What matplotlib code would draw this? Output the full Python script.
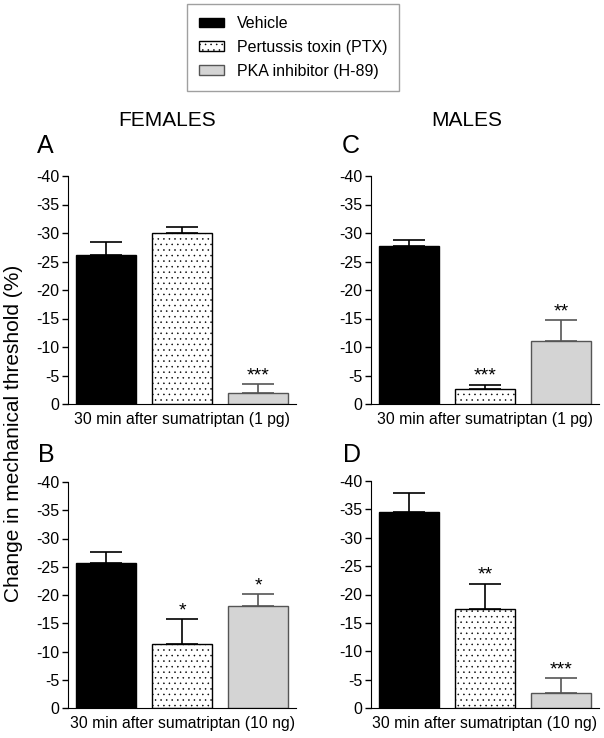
import numpy as np
import matplotlib
matplotlib.use("Agg")
import matplotlib.pyplot as plt
from matplotlib.patches import Patch

plt.rcParams['font.family'] = ['Liberation Sans', 'DejaVu Sans']
plt.rcParams['axes.unicode_minus'] = False
plt.rcParams['hatch.linewidth'] = 0.35

groups = ['Vehicle', 'Pertussis toxin (PTX)', 'PKA inhibitor (H-89)']

# change in mechanical threshold (%), plotted negative (axis is reversed)
fem_1pg = [-26.1, -30.0, -2.0]
fem_1pg_err = [2.3, 1.0, 1.5]
fem_1pg_sig = ['', '', '***']

fem_10ng = [-25.6, -11.3, -18.1]
fem_10ng_err = [2.0, 4.4, 2.0]
fem_10ng_sig = ['', '*', '*']

male_1pg = [-27.7, -2.6, -11.1]
male_1pg_err = [1.1, 0.8, 3.6]
male_1pg_sig = ['', '***', '**']

male_10ng = [-34.5, -17.5, -2.6]
male_10ng_err = [3.4, 4.4, 2.7]
male_10ng_sig = ['', '**', '***']

yticks = [0, -5, -10, -15, -20, -25, -30, -35, -40]

W, H = 604, 738
fig = plt.figure(figsize=(W / 100, H / 100), dpi=100)

def px_axes(x0, x1, ytop, ybot):
    return fig.add_axes([x0 / W, 1 - ybot / H, (x1 - x0) / W, (ybot - ytop) / H])

face = ['black', 'white', '#d4d4d4']
edge = ['black', 'black', '#555555']
hatch = [None, '...', None]

def panel(ax, vals, errs, sigs, xlabel):
    x = np.arange(3)
    for i in range(3):
        ax.bar(x[i], vals[i], width=0.79, color=face[i], edgecolor=edge[i],
               hatch=hatch[i], linewidth=1.0, zorder=2)
        ax.errorbar(x[i], vals[i], yerr=[[errs[i]], [0]], fmt='none',
                    ecolor=edge[i], elinewidth=1.2, capsize=11.5, capthick=1.2, zorder=3)
        if sigs[i]:
            ax.annotate(sigs[i], (x[i], vals[i] - errs[i]), xytext=(0, 6),
                        textcoords='offset points', ha='center', va='center',
                        fontsize=14)
    ax.set_xlim(-0.5, 2.5)
    ax.set_ylim(0, -40)
    ax.set_yticks(yticks)
    ax.set_xticks([])
    ax.spines['top'].set_visible(False)
    ax.spines['right'].set_visible(False)
    ax.tick_params(axis='y', labelsize=11.5, length=4, width=1, pad=2)
    ax.set_xlabel(xlabel, fontsize=11.3, labelpad=6)

axA = px_axes(68, 296, 176, 404)
axC = px_axes(371, 599, 176, 404)
axB = px_axes(68, 296, 482, 708)
axD = px_axes(371, 599, 481, 708)

panel(axA, fem_1pg, fem_1pg_err, fem_1pg_sig, '30 min after sumatriptan (1 pg)')
panel(axC, male_1pg, male_1pg_err, male_1pg_sig, '30 min after sumatriptan (1 pg)')
panel(axB, fem_10ng, fem_10ng_err, fem_10ng_sig, '30 min after sumatriptan (10 ng)')
panel(axD, male_10ng, male_10ng_err, male_10ng_sig, '30 min after sumatriptan (10 ng)')

fig.text(167 / W, 1 - 120 / H, 'FEMALES', ha='center', va='center', fontsize=15)
fig.text(467 / W, 1 - 120 / H, 'MALES', ha='center', va='center', fontsize=15)
for lab, xx, yy in [('A', 37, 146), ('C', 342, 146), ('B', 38, 455), ('D', 343, 455)]:
    fig.text(xx / W, 1 - yy / H, lab, ha='left', va='center', fontsize=18)

fig.text(14 / W, 1 - 433 / H, 'Change in mechanical threshold (%)', rotation=90,
         ha='center', va='center', fontsize=15)

handles = [Patch(facecolor=face[i], edgecolor=edge[i], hatch=hatch[i], label=groups[i])
           for i in range(3)]
leg = fig.legend(handles=handles, loc='upper left', bbox_to_anchor=(187 / W, 1 - 4 / H),
                 borderaxespad=0, fontsize=11.5, frameon=True, fancybox=False,
                 edgecolor='#888888', handlelength=1.56, handleheight=0.55,
                 borderpad=0.75, labelspacing=0.55, handletextpad=0.8)
leg.get_frame().set_linewidth(1.0)

fig.savefig('out.png', dpi=100)
